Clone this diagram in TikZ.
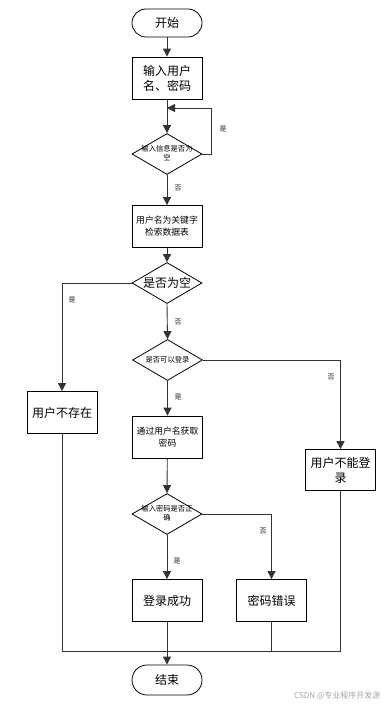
\documentclass[tikz,border=0pt]{standalone}
\usepackage{fontspec}
\setmainfont{Noto Sans CJK SC}
\usetikzlibrary{arrows.meta,shapes.geometric}
\begin{document}
\begin{tikzpicture}[x=1pt,y=-1pt,
  line/.style={draw=black!80, line width=0.9pt},
  arr/.style={line, -{Triangle[width=8pt,length=8pt]}},
  term/.style={draw=black, line width=0.8pt, rounded corners=14pt, minimum width=70pt, minimum height=28pt, inner sep=0pt, font=\fontsize{12}{14}\selectfont},
  procbox/.style={draw=black, line width=0.8pt, minimum width=70pt, minimum height=42pt, inner sep=0pt, align=center},
  dia/.style={draw=black, line width=0.8pt, shape=diamond, minimum width=70pt, minimum height=41pt, inner sep=0pt},
  big/.style={font=\fontsize{12}{15}\selectfont},
  mid/.style={font=\fontsize{8.8}{12}\selectfont},
  small/.style={font=\fontsize{7.3}{9}\selectfont, align=center},
  lab/.style={font=\fontsize{7}{8}\selectfont, text=black!85}]
\useasboundingbox (0,0) rectangle (387,708);
\fill[white] (0,0) rectangle (387,708);

\node[term] (start) at (167,23) {开始};
\node[procbox,big] (b1) at (167,78) {输入用户\\名、密码};
\node[dia] (d1) at (167,154) {};
\node[small] (d1t) at (167,153) {输入信息是否为\\空};
\node[procbox,mid] (b2) at (167,226.5) {用户名为关键字\\检索数据表};
\node[dia] (d2) at (167,283) {};
\node[big] (d2t) at (167,283) {是否为空};
\node[procbox,big] (b3) at (62,412.5) {用户不存在};
\node[dia] (d3) at (167.5,360) {};
\node[small] (d3t) at (167.5,360) {是否可以登录};
\node[procbox,mid] (b4) at (167.5,437) {通过用户名获取\\密码};
\node[procbox,big,minimum height=41pt] (b5) at (340.5,470) {用户不能登\\录};
\node[dia] (d4) at (167,514) {};
\node[small] (d4t) at (167,513) {输入密码是否正\\确};
\node[procbox,big] (b7) at (167,600.5) {登录成功};
\node[procbox,big] (b8) at (271.5,600.5) {密码错误};
\node[term, rounded corners=15pt, minimum height=30pt] (end) at (167,680) {结束};

\coordinate (lp) at (167,108);
\coordinate (mL) at (62,651);
\coordinate (mR) at (340.5,651);

\draw[arr] (start) -- (b1);
\draw[arr] (b1) -- (d1.north);
\draw[arr] (d1.east) -- ++(9,0) |- (lp);
\draw[arr] (d1.south) -- (b2.north);
\draw[arr] (b2) -- (d2.north);
\draw[arr] (d2.west) -| (b3.north);
\draw[arr] (d2.south) -- (d3.north);
\draw[arr] (d3.east) -| (b5.north);
\draw[arr] (d3.south) -- (b4.north);
\draw[arr] (b4) -- (d4.north);
\draw[arr] (d4.south) -- (b7.north);
\draw[arr] (d4.east) -| (b8.north);
\draw[line] (b3.south) -- (mL) -- (mR) -- (b5.south);
\draw[line] (b8.south) -- (b8.south |- mL);
\draw[arr] (b7.south) -- (end.north);

\node[lab] (l1) at (223,129) {是};
\node[lab] (l2) at (178,188) {否};
\node[lab] (l3) at (72,300) {是};
\node[lab] (l4) at (178,322) {否};
\node[lab] (l5) at (331,377) {否};
\node[lab] (l6) at (178,397) {是};
\node[lab] (l7) at (263,531) {否};
\node[lab] (l8) at (177,561) {是};

\node[font=\fontsize{8}{9}\selectfont, text=black!35, anchor=east] (wm) at (384,696) {CSDN @专业程序开发源};
\end{tikzpicture}
\end{document}
